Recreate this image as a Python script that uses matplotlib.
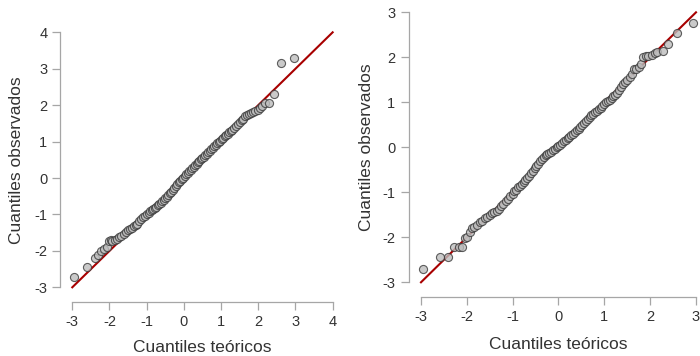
import matplotlib
matplotlib.use('Agg')
import matplotlib.pyplot as plt

plt.rcParams['font.family'] = ['Liberation Sans', 'DejaVu Sans']

#region Data

left_teo = [-2.95, -2.6, -2.4, -2.3, -2.22, -2.15, -2.08, -2.02, -1.97, -1.92, -1.86, -1.8, -1.74,
            -1.68, -1.62, -1.56, -1.5, -1.45, -1.4, -1.35, -1.3, -1.25, -1.2, -1.15, -1.1, -1.05,
            -1.0, -0.95, -0.9, -0.86, -0.82, -0.78, -0.74, -0.7, -0.66, -0.62, -0.58, -0.54, -0.5,
            -0.46, -0.42, -0.38, -0.34, -0.3, -0.26, -0.22, -0.18, -0.14, -0.1, -0.06, -0.02, 0.02,
            0.06, 0.1, 0.14, 0.18, 0.22, 0.26, 0.3, 0.34, 0.38, 0.42, 0.46, 0.5, 0.54, 0.58, 0.62,
            0.66, 0.7, 0.74, 0.78, 0.82, 0.86, 0.9, 0.94, 0.98, 1.02, 1.06, 1.1, 1.14, 1.18, 1.22,
            1.26, 1.3, 1.35, 1.4, 1.45, 1.5, 1.55, 1.6, 1.65, 1.7, 1.75, 1.8, 1.86, 1.92, 1.98,
            2.04, 2.1, 2.18, 2.28, 2.42, 2.6, 2.95]
left_obs = [-2.72, -2.45, -2.2, -2.1, -2.0, -1.95, -1.88, -1.72, -1.7, -1.72, -1.7, -1.68, -1.63,
            -1.58, -1.54, -1.49, -1.44, -1.41, -1.38, -1.33, -1.29, -1.25, -1.18, -1.12, -1.07,
            -1.03, -0.99, -0.95, -0.91, -0.88, -0.86, -0.83, -0.79, -0.75, -0.71, -0.68, -0.64,
            -0.6, -0.55, -0.51, -0.46, -0.41, -0.37, -0.33, -0.28, -0.23, -0.17, -0.12, -0.07,
            -0.03, 0.01, 0.06, 0.1, 0.14, 0.18, 0.22, 0.27, 0.31, 0.35, 0.39, 0.43, 0.47, 0.51,
            0.55, 0.59, 0.63, 0.67, 0.71, 0.75, 0.79, 0.83, 0.87, 0.91, 0.95, 0.99, 1.02, 1.06,
            1.1, 1.14, 1.18, 1.22, 1.26, 1.3, 1.33, 1.37, 1.42, 1.48, 1.54, 1.58, 1.63, 1.69,
            1.74, 1.77, 1.78, 1.8, 1.84, 1.88, 1.93, 1.98, 2.05, 2.06, 2.3, 3.17, 3.29]

right_teo = [-2.95, -2.59, -2.4, -2.28, -2.18, -2.1, -2.04, -1.99, -1.94, -1.89, -1.84, -1.78,
             -1.72, -1.66, -1.6, -1.55, -1.5, -1.45, -1.4, -1.35, -1.3, -1.25, -1.2, -1.15, -1.1,
             -1.05, -1.0, -0.96, -0.92, -0.88, -0.84, -0.8, -0.76, -0.72, -0.68, -0.64, -0.6,
             -0.56, -0.52, -0.48, -0.44, -0.4, -0.36, -0.32, -0.28, -0.24, -0.2, -0.16, -0.12,
             -0.08, -0.04, 0.0, 0.04, 0.08, 0.12, 0.16, 0.2, 0.24, 0.28, 0.32, 0.36, 0.4, 0.44,
             0.48, 0.52, 0.56, 0.6, 0.64, 0.68, 0.72, 0.76, 0.8, 0.84, 0.88, 0.92, 0.96, 1.0,
             1.04, 1.08, 1.12, 1.16, 1.2, 1.24, 1.28, 1.32, 1.36, 1.4, 1.45, 1.5, 1.55, 1.6,
             1.65, 1.7, 1.75, 1.8, 1.85, 1.9, 1.96, 2.03, 2.1, 2.16, 2.27, 2.4, 2.58, 2.94]
right_obs = [-2.71, -2.44, -2.43, -2.21, -2.21, -2.21, -2.02, -2.0, -1.88, -1.8, -1.76, -1.72,
             -1.66, -1.63, -1.58, -1.54, -1.5, -1.47, -1.44, -1.41, -1.37, -1.31, -1.25, -1.2,
             -1.15, -1.09, -1.03, -0.98, -0.94, -0.89, -0.85, -0.81, -0.77, -0.73, -0.69, -0.64,
             -0.58, -0.52, -0.46, -0.41, -0.36, -0.3, -0.25, -0.21, -0.18, -0.15, -0.13, -0.1,
             -0.07, -0.04, 0.0, 0.03, 0.06, 0.1, 0.13, 0.16, 0.2, 0.24, 0.27, 0.3, 0.34, 0.38,
             0.41, 0.45, 0.49, 0.54, 0.59, 0.63, 0.67, 0.71, 0.75, 0.78, 0.81, 0.85, 0.88, 0.92,
             0.97, 1.01, 1.04, 1.06, 1.09, 1.13, 1.16, 1.2, 1.28, 1.35, 1.4, 1.46, 1.5, 1.56,
             1.63, 1.73, 1.75, 1.78, 1.85, 2.0, 2.02, 2.03, 2.06, 2.1, 2.12, 2.15, 2.3, 2.55, 2.76]

left_ticks = [-3, -2, -1, 0, 1, 2, 3, 4]
right_ticks = [-3, -2, -1, 0, 1, 2, 3]

xlabel_text = 'Cuantiles teóricos'
ylabel_text = 'Cuantiles observados'

#endregion

#region Plot

fig = plt.figure(figsize=(7.0, 3.56), dpi=100)

ax1 = fig.add_axes([0.0884, 0.1643, 0.4017, 0.7736])
ax2 = fig.add_axes([0.5857, 0.1767, 0.4243, 0.8190])

panels = [
    (ax1, left_teo, left_obs, left_ticks, (-0.163, -0.18)),
    (ax2, right_teo, right_obs, right_ticks, (-0.148, -0.178)),
]

for ax, xs, ys, ticks, (ylx, xly) in panels:
    lo, hi = ticks[0], ticks[-1]
    pad = 0.04 * (hi - lo)
    ax.plot([lo, hi], [lo, hi], color='#a80000', lw=1.5, zorder=1)
    ax.scatter(xs, ys, s=34, facecolor='#bdbdbd', edgecolor='#3a3a3a',
               linewidth=0.8, alpha=0.8, zorder=2)
    ax.set_xlim(lo - pad, hi + pad)
    ax.set_ylim(lo - pad, hi + pad)
    ax.set_xticks(ticks)
    ax.set_yticks(ticks)
    ax.set_xticklabels([str(t) for t in ticks])
    ax.set_yticklabels([str(t) for t in ticks])
    for side in ['top', 'right']:
        ax.spines[side].set_visible(False)
    ax.spines['left'].set_bounds(lo, hi)
    ax.spines['bottom'].set_bounds(lo, hi)
    ax.spines['left'].set_position(('outward', 1))
    ax.spines['bottom'].set_position(('outward', 3))
    for side in ['left', 'bottom']:
        ax.spines[side].set_color('#a6a6a6')
        ax.spines[side].set_linewidth(0.9)
    ax.tick_params(length=5.5, width=0.9, color='#a6a6a6', labelcolor='#333333',
                   labelsize=10.5, pad=4)
    ax.set_xlabel(xlabel_text, fontsize=12.5, color='#333333')
    ax.set_ylabel(ylabel_text, fontsize=12.5, color='#333333')
    ax.xaxis.label.set_va('center')
    ax.yaxis.label.set_va('center')
    ax.xaxis.set_label_coords(0.5, xly)
    ax.yaxis.set_label_coords(ylx, 0.5)

fig.savefig('out.png', dpi=100)

#endregion
